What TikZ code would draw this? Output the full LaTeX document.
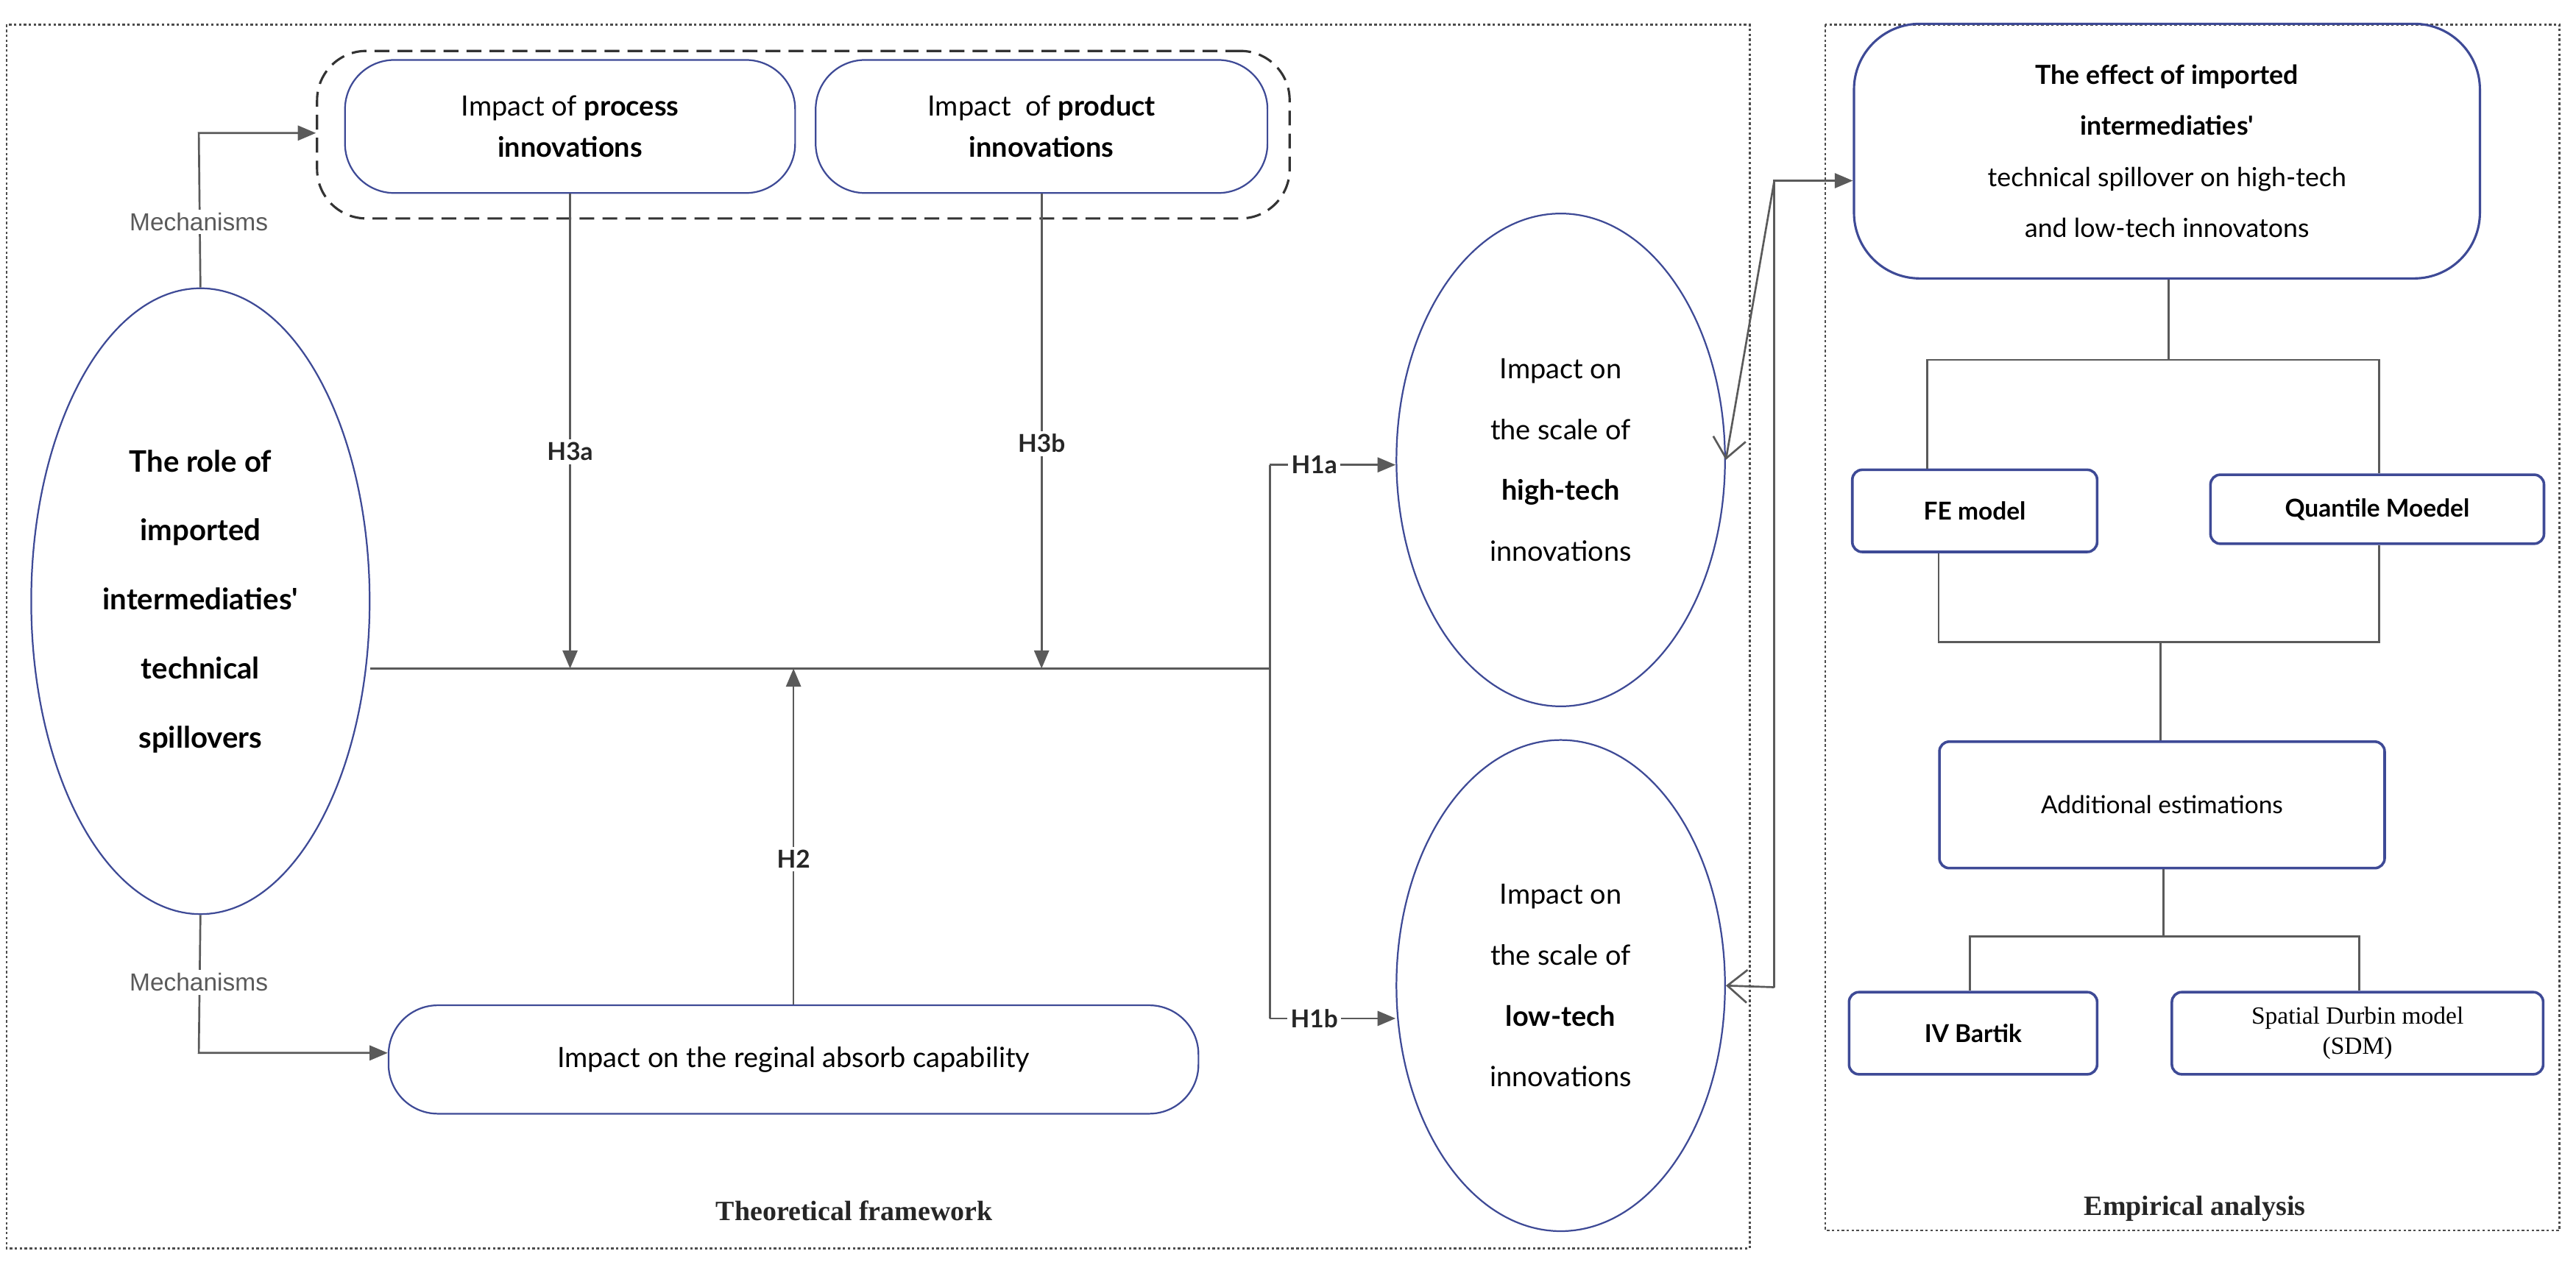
\documentclass[tikz,border=0pt]{standalone}
\usepackage{fontspec}
\setmainfont{Liberation Serif}
\newfontfamily\qs{Lato}
\newfontfamily\ar{Liberation Sans}
\usetikzlibrary{arrows.meta,shapes.geometric}
\definecolor{bnav}{HTML}{3E4A96}
\definecolor{lgr}{HTML}{5A5A5A}
\begin{document}
\begin{tikzpicture}[x=1pt,y=-1pt,
  rbox/.style={draw=bnav,line width=1pt,rounded corners=#1,align=center,inner sep=0pt,font=\qs\fontsize{17}{25}\selectfont},
  rbox/.default=30pt,
  sbox/.style={draw=bnav,line width=1.6pt,rounded corners=6pt,align=center,inner sep=0pt,font=\qs\fontsize{15}{20}\selectfont},
  ell/.style={draw=bnav,line width=1pt,ellipse,inner sep=0pt,align=center,font=\qs\fontsize{17}{37}\selectfont},
  ln/.style={draw=lgr,line width=1.2pt},
  tr/.style={ln,-{Triangle[length=11pt,width=9pt]}},
  op/.style={ln,-{Straight Barb[length=12pt,width=20pt,line width=1.2pt]}},
  hl/.style={font=\qs\bfseries\fontsize{15}{18}\selectfont,fill=white,inner sep=2pt,text=black!85},
  mech/.style={font=\ar\fontsize{15}{18}\selectfont,text=lgr,fill=white,inner sep=2pt},
  ttl/.style={font=\bfseries\fontsize{17}{20}\selectfont,text=black!85},
  frame/.style={draw=black!70,line width=1.2pt,dash pattern=on 1.5pt off 1.5pt}]
\useasboundingbox (0,0) rectangle (1568,770);
% frames
\draw[frame] (4,15) rectangle (1065,760);
\draw[frame] (1111,15) rectangle (1558,749);
\node[ttl] (tf) at (520,737) {Theoretical framework};
\node[ttl] (ea) at (1336,736) {Empirical analysis};
% top container
\node[draw=black!80,line width=1.4pt,dash pattern=on 9pt off 5pt,rounded corners=30pt,minimum width=592pt,minimum height=102pt] (cont) at (489,82) {};
\node[rbox,minimum width=274pt,minimum height=81pt] (proc) at (347,77) {Impact of \textbf{process}\\\textbf{innovations}};
\node[rbox,minimum width=275pt,minimum height=81pt] (prod) at (634,77) {Impact \ of \textbf{product}\\\textbf{innovations}};
% left ellipse
\node[ell,minimum width=206pt,minimum height=381pt,font=\qs\bfseries\fontsize{18}{42}\selectfont] (role) at (122,366) {The role of\\imported\\intermediaties'\\technical\\spillovers};
% absorb
\node[rbox=30pt,minimum width=493pt,minimum height=66pt] (abs) at (483,645) {Impact on the reginal absorb capability};
% tech ellipses
\node[ell,minimum width=200pt,minimum height=300pt] (high) at (950,280) {Impact on\\the scale of\\\textbf{high-tech}\\innovations};
\node[ell,minimum width=200pt,minimum height=299pt] (low) at (950,600) {Impact on\\the scale of\\\textbf{low-tech}\\innovations};
% coordinates
\coordinate (mt) at (121,81);
\coordinate (mb) at (121,641);
\coordinate (jl) at (347,407);
\coordinate (jr) at (634,407);
\coordinate (j2) at (483,407);
\coordinate (br) at (773,407);
\coordinate (bt) at (773,283);
\coordinate (bb) at (773,620);
% mechanisms
\draw[tr] (role.north) -- (mt) -- (cont.west|-mt);
\node[mech] (m1) at (121,135) {Mechanisms};
\draw[tr] (role.south) -- (mb) -- (abs.west|-mb);
\node[mech] (m2) at (121,598) {Mechanisms};
% main line
\draw[ln] (role.east|-br) -- (br);
\draw[ln] (bt) -- (bb);
\draw[tr] (bt) -- (high.west|-bt);
\draw[tr] (bb) -- (low.west|-bb);
\node[hl] (h1a) at (800,283) {H1a};
\node[hl] (h1b) at (800,620) {H1b};
\draw[tr] (proc.south) -- (jl);
\draw[tr] (prod.south) -- (jr);
\node[hl] (h3a) at (347,275) {H3a};
\node[hl] (h3b) at (634,270) {H3b};
\draw[tr] (abs.north) -- (j2);
\node[hl] (h2) at (483,523) {H2};
% empirical
\node[rbox=40pt,line width=1.4pt,minimum width=381pt,minimum height=155pt,font=\qs\fontsize{16}{31}\selectfont] (eff) at (1319,92) {\textbf{The effect of imported}\\\textbf{intermediaties'}\\technical spillover on high-tech\\and low-tech innovatons};
\coordinate (vt) at (1080,110);
\coordinate (vb) at (1080,601);
\draw[op] (vt) -- (high.east|-high.center);
\draw[op] (vb) -- (low.east|-low.center);
\draw[tr] (1080,283) -- (vt) -- (eff.west|-vt);
\draw[ln] (1080,283) -- (vb);
\node[sbox,minimum width=149pt,minimum height=50pt,font=\qs\bfseries\fontsize{15}{20}\selectfont] (fe) at (1202,311) {FE model};
\node[sbox,minimum width=203pt,minimum height=42pt,font=\qs\bfseries\fontsize{15}{20}\selectfont] (qm) at (1447,310) {Quantile Moedel};
\node[sbox,minimum width=271pt,minimum height=77pt] (add) at (1316,490) {Additional estimations};
\node[sbox,minimum width=151pt,minimum height=50pt,font=\qs\bfseries\fontsize{15}{20}\selectfont] (iv) at (1201,629) {IV Bartik};
\node[sbox,minimum width=226pt,minimum height=50pt,font=\fontsize{15}{18}\selectfont] (sdm) at (1435,629) {Spatial Durbin model\\(SDM)};
\coordinate (s1) at (1320,219);
\coordinate (s2) at (1315,391);
\coordinate (s3) at (1317,570);
\draw[ln] (eff.south-|s1) -- (s1);
\draw[ln] (fe.north-|1173,0) -- (1173,219) -- (1448,219) -- (qm.north-|1448,0);
\draw[ln] (fe.south-|1180,0) -- (1180,391) -- (1448,391) -- (qm.south-|1448,0);
\draw[ln] (s2) -- (add.north-|s2);
\draw[ln] (add.south-|s3) -- (s3);
\draw[ln] (iv.north-|1199,0) -- (1199,570) -- (1436,570) -- (sdm.north-|1436,0);
\end{tikzpicture}
\end{document}
